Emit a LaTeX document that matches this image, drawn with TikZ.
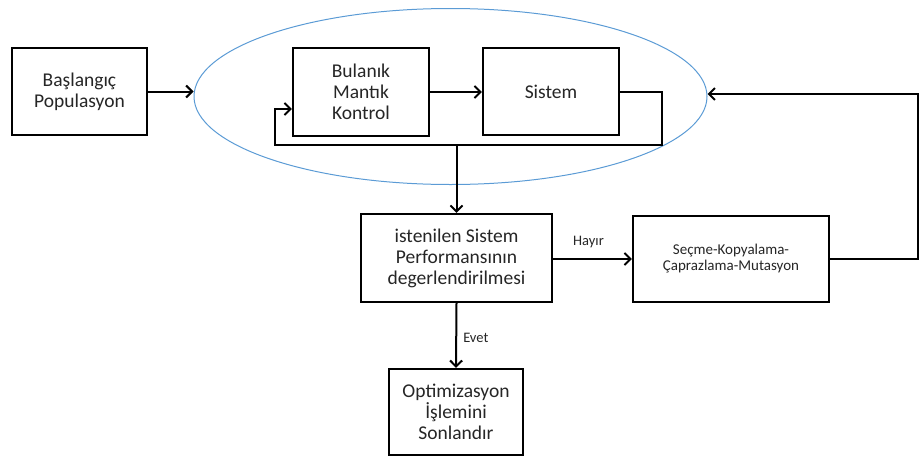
\documentclass[tikz,border=0pt]{standalone}
\usepackage{fontspec}
\setmainfont{Carlito}
\usetikzlibrary{arrows.meta,shapes.geometric}
\definecolor{ringblue}{RGB}{91,155,213}
\definecolor{inkgray}{RGB}{38,38,38}
\begin{document}
\begin{tikzpicture}[x=1pt,y=-1pt,
  box/.style={draw=black,line width=2.2pt,fill=white,inner sep=0pt,align=center,
    text=inkgray,font=\fontsize{19.5}{21}\selectfont},
  smallbox/.style={box,font=\fontsize{15}{16}\selectfont},
  link/.style={line width=2pt,draw=black},
  arr/.style={link,-{Straight Barb[length=6pt,width=12pt]}},
  tag/.style={text=inkgray,font=\fontsize{14.5}{16}\selectfont,inner sep=0pt}]
\useasboundingbox (0,0) rectangle (921,458);

% the fuzzy-control loop region
\node[ellipse,draw=ringblue,line width=1pt,minimum width=513pt,minimum height=176pt,inner sep=0pt]
  (ring) at (450.5,96.5) {};

% blocks
\node[box,minimum width=135pt,minimum height=87pt] (bas) at (79.5,91.5) {Başlangıç\\Populasyon};
\node[box,minimum width=136pt,minimum height=88pt] (bmk) at (361,92) {Bulanık\\Mantık\\Kontrol};
\node[box,minimum width=136pt,minimum height=87pt] (sis) at (551,91.5) {Sistem};
\node[box,minimum width=191pt,minimum height=88pt] (ev) at (456.5,258) {istenilen Sistem\\Performansının\\degerlendirilmesi};
\node[smallbox,minimum width=196pt,minimum height=86pt] (sec) at (731,259) {Seçme-Kopyalama-\\Çaprazlama-Mutasyon};
\node[box,minimum width=134pt,minimum height=86pt] (opt) at (456,412) {Optimizasyon\\İşlemini\\Sonlandır};

% routing points
\coordinate (lr) at (662,145);
\coordinate (ll) at (275,145);
\coordinate (tap) at (456.5,145);
\coordinate (rc) at (918,94);

% connectors
\draw[arr] (bas.east) -- (bas.east -| ring.west);
\draw[arr] (bmk.east) -- (bmk.east -| sis.west);
\draw[arr] (sis.east) -| (lr) -- (ll) |- ([yshift=-17pt]bmk.west);
\draw[arr] (tap) -- (ev.north);
\draw[arr] (ev.east |- sec.west) -- node[tag,above=10pt,xshift=-4pt]{Hayır} (sec.west);
\draw[arr] (ev.south) -- node[tag,right=6pt,yshift=-2pt]{Evet} (opt.north);
\draw[arr] (sec.east) -| (rc) -- (rc -| ring.east);
\end{tikzpicture}
\end{document}
